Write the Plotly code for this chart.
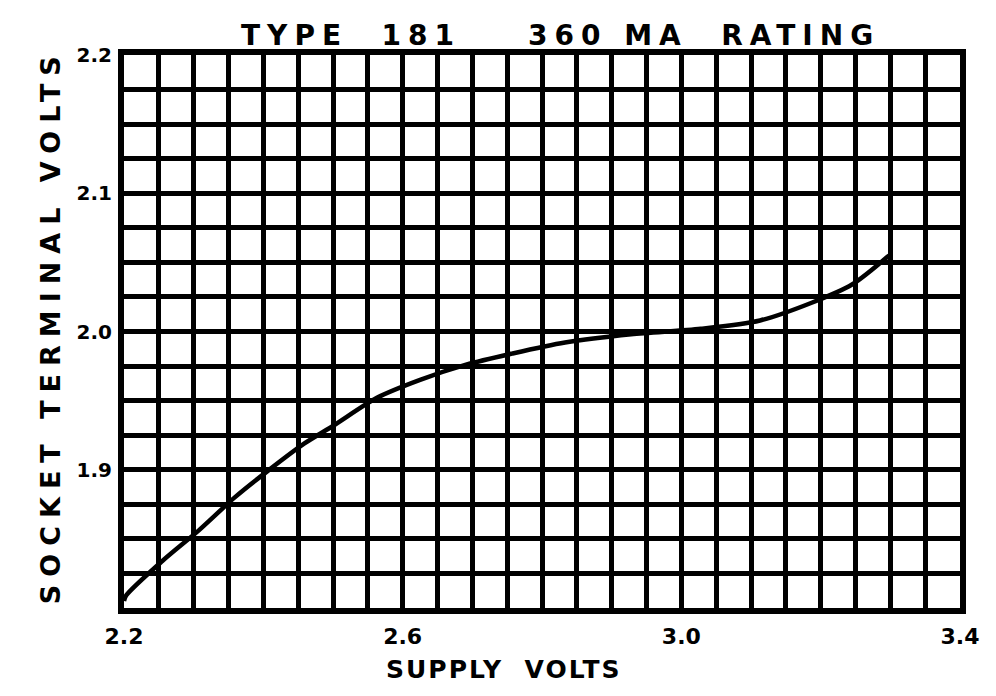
import plotly.graph_objects as go

# Data
supply_volts = [2.20, 2.203, 2.255, 2.307, 2.359, 2.406, 2.459, 2.501, 2.563, 2.625,
                2.691, 2.757, 2.833, 2.928, 3.028, 3.113, 3.188, 3.245, 3.298]
socket_volts = [1.805, 1.809, 1.834, 1.856, 1.880, 1.899, 1.919, 1.932, 1.952, 1.965,
                1.976, 1.984, 1.992, 1.998, 2.002, 2.008, 2.021, 2.034, 2.055]

x_tickvals = [2.2, 2.6, 3.0, 3.4]
x_ticktext = ["2.2", "2.6", "3.0", "3.4"]
y_tickvals = [1.9, 2.0, 2.1, 2.2]
y_ticktext = ["1.9", "2.0", "2.1", "2.2"]

title_text = "TYPE  181    360 MA  RATING"
x_title = "SUPPLY  VOLTS"
y_title = "SOCKET TERMINAL VOLTS"

FONT = "DejaVu Sans"


def spaced(t, px):
    return '<span style="letter-spacing:%dpx">%s</span>' % (px, t)


fig = go.Figure()
fig.add_trace(go.Scatter(
    x=supply_volts, y=socket_volts, mode="lines",
    line=dict(color="black", width=4.5, shape="spline", smoothing=0.8),
    showlegend=False, hoverinfo="skip",
))

grid_w = 4.8
fig.update_layout(
    width=996, height=696,
    paper_bgcolor="white", plot_bgcolor="white",
    margin=dict(l=116, r=44, t=47, b=96),
    xaxis=dict(
        range=[2.2, 3.4], tickvals=x_tickvals, ticktext=x_ticktext,
        showgrid=True, gridcolor="black", gridwidth=grid_w,
        minor=dict(dtick=0.05, tick0=2.2, showgrid=True, gridcolor="black", gridwidth=grid_w),
        showline=True, linecolor="black", linewidth=6, mirror=True,
        zeroline=False, ticks="", ticklabelstandoff=4,
        tickfont=dict(family=FONT, size=22, color="black", weight="bold"),
    ),
    yaxis=dict(
        range=[1.8, 2.2], tickvals=y_tickvals, ticktext=y_ticktext,
        showgrid=True, gridcolor="black", gridwidth=grid_w,
        minor=dict(dtick=0.025, tick0=1.8, showgrid=True, gridcolor="black", gridwidth=grid_w),
        showline=True, linecolor="black", linewidth=6, mirror=True,
        zeroline=False, ticks="", ticklabelstandoff=2,
        tickfont=dict(family=FONT, size=20, color="black", weight="bold"),
    ),
)

# Title and axis titles placed as annotations for precise positioning
fig.add_annotation(text=spaced(title_text, 7), xref="paper", yref="paper",
                   x=0.522, y=1.035, xanchor="center", yanchor="middle",
                   showarrow=False,
                   font=dict(family=FONT, size=28, color="black", weight="bold"))
fig.add_annotation(text=spaced(x_title, 2), xref="paper", yref="paper",
                   x=0.455, y=-0.112, xanchor="center", yanchor="middle",
                   showarrow=False,
                   font=dict(family=FONT, size=25, color="black", weight="bold"))
fig.add_annotation(text=spaced(y_title, 8), xref="paper", yref="paper",
                   x=-0.087, y=0.51, xanchor="center", yanchor="middle",
                   textangle=-90, showarrow=False,
                   font=dict(family=FONT, size=27, color="black", weight="bold"))

fig.write_html("out.html")
